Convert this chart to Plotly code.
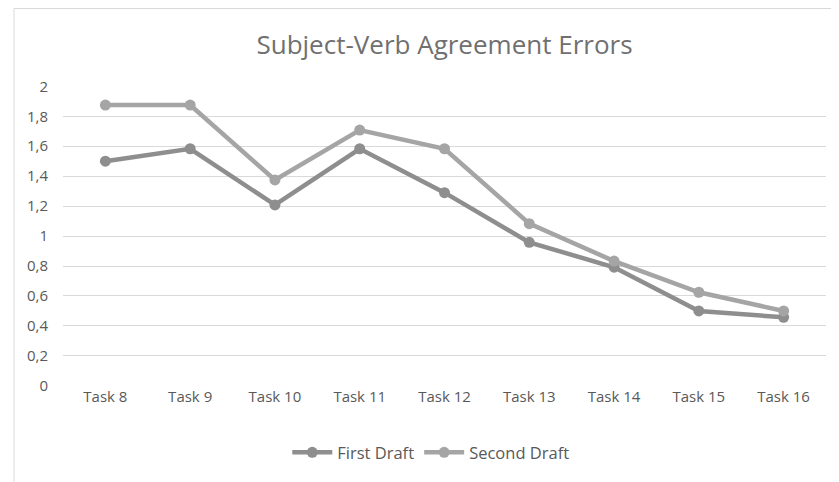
import plotly.graph_objects as go

tasks = ["Task 8", "Task 9", "Task 10", "Task 11", "Task 12", "Task 13", "Task 14", "Task 15", "Task 16"]
first_draft = [1.5, 1.583, 1.208, 1.583, 1.29, 0.958, 0.792, 0.5, 0.458]
second_draft = [1.875, 1.875, 1.375, 1.708, 1.583, 1.083, 0.833, 0.625, 0.5]
y_ticks = [0, 0.2, 0.4, 0.6, 0.8, 1, 1.2, 1.4, 1.6, 1.8, 2]
y_tick_labels = ["0", "0,2", "0,4", "0,6", "0,8", "1", "1,2", "1,4", "1,6", "1,8", "2"]

font_family = "Open Sans, Liberation Sans, sans-serif"

# page body has an 8px margin, so figure coords are offset by 8px
fig = go.Figure()
fig.add_trace(go.Scatter(x=tasks, y=first_draft, name="First Draft", mode="lines+markers",
                         line=dict(color="#8e8e8e", width=4.5),
                         marker=dict(size=11, color="#8e8e8e")))
fig.add_trace(go.Scatter(x=tasks, y=second_draft, name="Second Draft", mode="lines+markers",
                         line=dict(color="#a5a5a5", width=4.5),
                         marker=dict(size=11, color="#a5a5a5")))

fig.update_layout(
    width=831, height=474,
    margin=dict(l=55, r=13, t=78, b=94),
    paper_bgcolor="white", plot_bgcolor="white",
    title=dict(text="Subject-Verb Agreement Errors", x=0.5, xref="paper", xanchor="center",
               y=1 - 37 / 474, yanchor="middle",
               font=dict(family=font_family, size=26, color="#707070")),
    font=dict(family=font_family, size=15, color="#595959"),
    showlegend=True,
    legend=dict(orientation="h", x=0.482, xanchor="center", y=-0.222, yanchor="middle",
                font=dict(size=16.5, color="#595959"), itemwidth=40),
    xaxis=dict(type="category", range=[-0.5, 8.5], showgrid=False, zeroline=False,
               showline=False, ticks="", tickfont=dict(size=15, color="#595959")),
    yaxis=dict(range=[-0.001, 2.002], tickvals=y_ticks, ticktext=y_tick_labels,
               showgrid=True, gridcolor="#d9d9d9", gridwidth=1, zeroline=False,
               showline=False, ticks="", ticklabelstandoff=14,
               tickfont=dict(size=15, color="#595959")),
    shapes=[dict(type="rect", xref="paper", yref="paper",
                 x0=(14 - 63) / 763, x1=(837 - 63) / 763,
                 y0=(388 - 495) / 302, y1=(388 - 8) / 302,
                 line=dict(color="#d9d9d9", width=1), layer="below")],
)

fig.write_html("out.html")
